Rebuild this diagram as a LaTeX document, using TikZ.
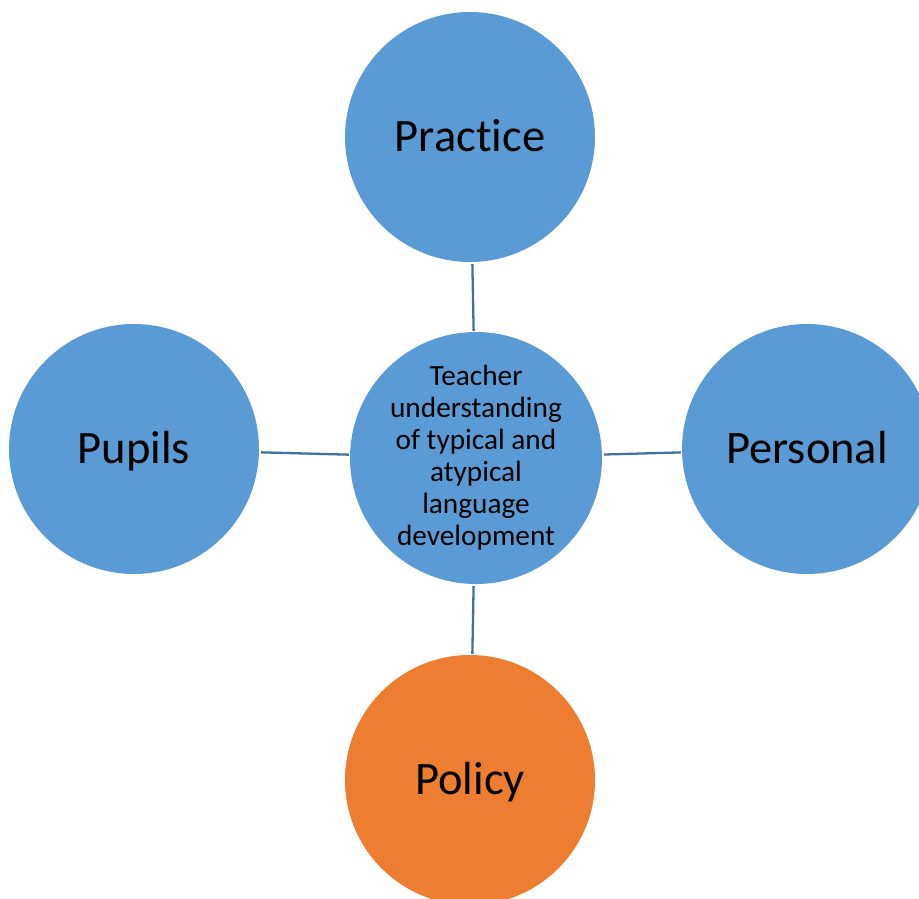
\documentclass[tikz,border=0pt]{standalone}
\usepackage{fontspec}
\setmainfont{Carlito}[Ligatures=NoCommon]
\definecolor{circblue}{HTML}{5B9BD5}
\definecolor{circorange}{HTML}{ED7D31}
\definecolor{linkblue}{HTML}{41719C}
\begin{document}
\begin{tikzpicture}[x=1pt,y=-1pt,
  bubble/.style={circle, fill=circblue, draw=none, minimum size=250pt, inner sep=0pt,
     font=\fontsize{46.5}{55}\selectfont, text height=29.9pt, text depth=0pt},
  hub/.style={circle, fill=circblue, draw=none, minimum size=250pt, inner sep=0pt,
     font=\fontsize{29.3}{32}\selectfont, align=center},
  link/.style={draw=linkblue, line width=2.3pt, shorten <=2pt, shorten >=1pt}]
\useasboundingbox (0,0) rectangle (919,899);
\clip (0,0) rectangle (919,899);
\node[hub] (hub) at (476,458) {Teacher\\understanding\\of typical and\\atypical\\language\\development};
\node[bubble] (practice) at (470,137) {Practice};
\node[bubble] (pupils) at (134,449) {Pupils};
\node[bubble] (personal) at (807,449) {Personal};
\node[bubble, fill=circorange] (policy) at (470,780) {Policy};
\draw[link] (practice) -- (hub);
\draw[link] (pupils) -- (hub);
\draw[link] (hub) -- (personal);
\draw[link] (hub) -- (policy);
\end{tikzpicture}
\end{document}
